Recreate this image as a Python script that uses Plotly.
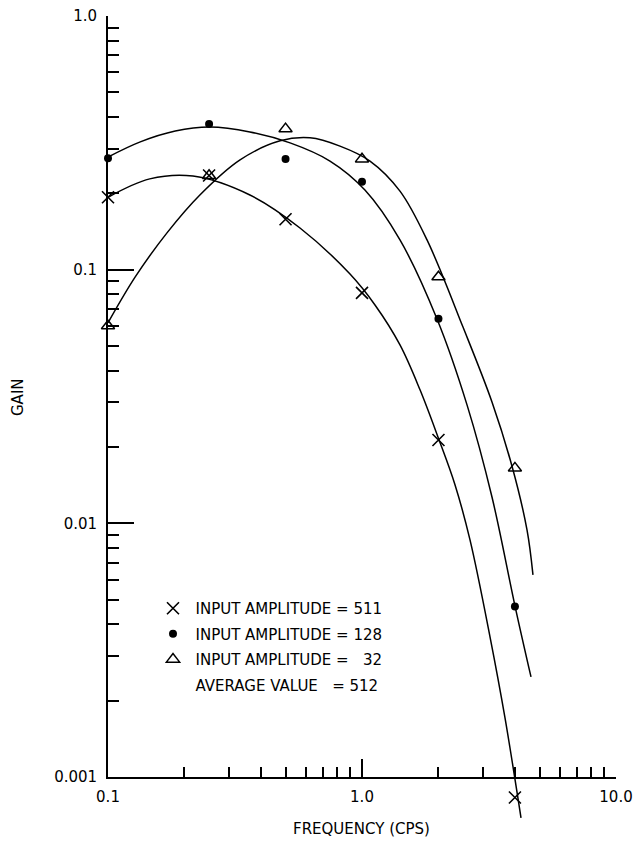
import plotly.graph_objects as go

# Measured gain at each test frequency (cps)
freq_pts = [0.1, 0.25, 0.5, 1.0, 2.0, 4.0]
gain_511 = [0.193, 0.235, 0.158, 0.081, 0.0213, 0.00083]
gain_128 = [0.275, 0.375, 0.273, 0.222, 0.064, 0.0047]
gain_32 = [0.060, 0.235, 0.359, 0.273, 0.0936, 0.0165]

# Hand-faired curves through each data set
fit_511_f = [0.100, 0.146, 0.216, 0.362, 0.570, 0.897, 1.125, 1.411, 1.692, 1.991,
             2.323, 2.662, 3.191, 3.656, 4.227]
fit_511_g = [0.193, 0.228, 0.234, 0.197, 0.146, 0.0961, 0.0726, 0.0505, 0.0336, 0.0219,
             0.0142, 0.0086, 0.00357, 0.00171, 0.00069]

fit_128_f = [0.100, 0.134, 0.184, 0.252, 0.362, 0.521, 0.748, 1.027, 1.411, 1.974,
             2.591, 3.249, 4.003, 4.628]
fit_128_g = [0.278, 0.319, 0.352, 0.365, 0.349, 0.316, 0.268, 0.206, 0.131, 0.0639,
             0.0293, 0.0127, 0.00472, 0.00248]

fit_32_f = [0.100, 0.128, 0.171, 0.230, 0.331, 0.476, 0.624, 0.819, 1.075, 1.411,
            1.803, 2.498, 3.249, 3.896, 4.463, 4.711]
fit_32_g = [0.0617, 0.0936, 0.140, 0.197, 0.271, 0.322, 0.331, 0.307, 0.268, 0.204,
            0.131, 0.0594, 0.0301, 0.0168, 0.00942, 0.00626]

x_major = [0.1, 1.0, 10.0]
x_major_text = ["0.1", "1.0", "10.0"]
y_major = [0.001, 0.01, 0.1, 1.0]
y_major_text = ["0.001", "0.01", "0.1", "1.0"]
minor_digits = [2, 3, 4, 5, 6, 7, 8, 9]

legend_names = [
    "INPUT AMPLITUDE = 511",
    "INPUT AMPLITUDE = 128",
    "INPUT AMPLITUDE =\u00a0\u00a0\u00a032",
    "AVERAGE VALUE\u00a0\u00a0\u00a0= 512",
]

# ---- page geometry (pixels) ----
W, H = 636, 848
ML, MR, MT, MB = 108, 20, 16, 23
axis_top_px, axis_bottom_px = 16, 777       # 1.0 and 0.001 on the gain axis
plot_w = W - ML - MR
plot_h = H - MT - MB
decade_px = (axis_bottom_px - axis_top_px) / 3.0
y_dom0 = (H - MB - axis_bottom_px) / plot_h
# curves and points run a little below 0.001, so they live on a taller hidden axis
y2_low = -3.0 - (H - MB - axis_bottom_px) / decade_px

FONT = "DejaVu Sans"
INK = "black"

x_minor = [d * 10 ** e for e in (-1, 0) for d in minor_digits]
y_minor = [d * 10 ** e for e in (-3, -2, -1) for d in minor_digits]

fig = go.Figure()

curve_style = dict(color=INK, width=1.5, shape="spline", smoothing=1.0)
for fx, fy in ((fit_511_f, fit_511_g), (fit_128_f, fit_128_g), (fit_32_f, fit_32_g)):
    fig.add_trace(go.Scatter(x=fx, y=fy, mode="lines", line=curve_style,
                             xaxis="x", yaxis="y2", showlegend=False, hoverinfo="skip"))

fig.add_trace(go.Scatter(
    x=freq_pts, y=gain_511, mode="markers", name=legend_names[0], legendgroup="a",
    xaxis="x", yaxis="y2", cliponaxis=False,
    marker=dict(symbol="x-thin", size=12, color=INK, line=dict(color=INK, width=1.6))))
fig.add_trace(go.Scatter(
    x=freq_pts, y=gain_128, mode="markers", name=legend_names[1], legendgroup="b",
    xaxis="x", yaxis="y2", cliponaxis=False,
    marker=dict(symbol="circle", size=8, color=INK, line=dict(width=0))))
fig.add_trace(go.Scatter(
    x=freq_pts, y=gain_32, mode="markers", name=legend_names[2], legendgroup="c",
    xaxis="x", yaxis="y2", cliponaxis=False,
    marker=dict(symbol="triangle-up-open", size=11.5, color=INK, line=dict(color=INK, width=1.5))))
fig.add_trace(go.Scatter(
    x=[None], y=[None], mode="markers", name=legend_names[3], legendgroup="d",
    xaxis="x", yaxis="y",
    marker=dict(symbol="circle", size=1, color="rgba(0,0,0,0)")))

tick_font = dict(family=FONT, size=15, color=INK)

fig.update_layout(
    width=W, height=H,
    margin=dict(l=ML, r=MR, t=MT, b=MB, pad=0),
    paper_bgcolor="white", plot_bgcolor="rgba(0,0,0,0)",
    hovermode=False,
    showlegend=True,
    legend=dict(
        x=(150.5 - ML) / plot_w, y=(H - MB - 592) / plot_h,
        xanchor="left", yanchor="top",
        font=dict(family=FONT, size=15, color=INK),
        bgcolor="rgba(0,0,0,0)", borderwidth=0,
        traceorder="grouped", tracegroupgap=3, itemwidth=35,
    ),
    xaxis=dict(
        type="log", range=[-1, 1], domain=[0, 1], anchor="y",
        showline=True, linecolor=INK, linewidth=1.8, mirror=False,
        showgrid=False, zeroline=False,
        ticks="inside", ticklen=18, tickwidth=1.5, tickcolor=INK,
        tickmode="array", tickvals=x_major, ticktext=x_major_text,
        minor=dict(tickmode="array", tickvals=x_minor, ticks="inside",
                   ticklen=10, tickwidth=1.5, tickcolor=INK, showgrid=False),
        tickfont=tick_font, ticklabelstandoff=5, automargin=False,
    ),
    yaxis=dict(
        type="log", range=[-3, 0], domain=[y_dom0, 1], anchor="x",
        showline=True, linecolor=INK, linewidth=1.8, mirror=False,
        showgrid=False, zeroline=False,
        ticks="inside", ticklen=26, tickwidth=1.5, tickcolor=INK,
        tickmode="array", tickvals=y_major, ticktext=y_major_text,
        minor=dict(tickmode="array", tickvals=y_minor, ticks="inside",
                   ticklen=11, tickwidth=1.5, tickcolor=INK, showgrid=False),
        tickfont=tick_font, ticklabelstandoff=6, automargin=False,
    ),
    yaxis2=dict(
        type="log", range=[y2_low, 0], domain=[0, 1], anchor="x",
        visible=False, showgrid=False, zeroline=False,
    ),
    annotations=[
        dict(text="GAIN", xref="paper", yref="paper",
             x=(18 - ML) / plot_w, y=(H - MB - 397) / plot_h,
             xanchor="center", yanchor="middle", textangle=-90, showarrow=False,
             font=dict(family=FONT, size=15, color=INK)),
        dict(text="FREQUENCY (CPS)", xref="paper", yref="paper",
             x=(361 - ML) / plot_w, y=(H - MB - 829) / plot_h,
             xanchor="center", yanchor="middle", showarrow=False,
             font=dict(family=FONT, size=15, color=INK)),
    ],
)

fig.write_html("out.html")
